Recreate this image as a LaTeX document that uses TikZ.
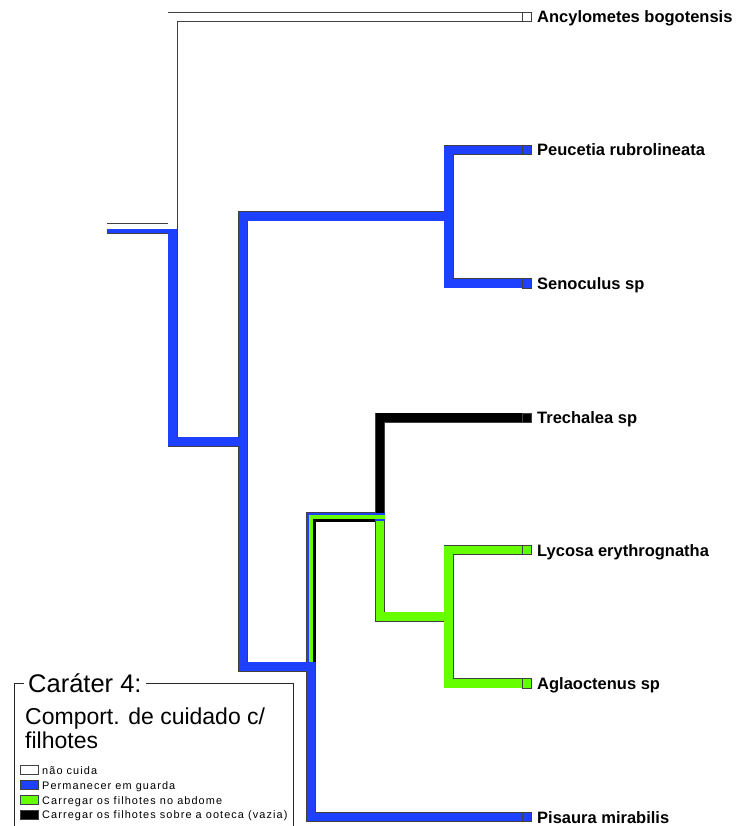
\documentclass[tikz,border=0pt]{standalone}
\usepackage{fontspec}
\setmainfont{Liberation Sans}
\newfontfamily\tipfont{Liberation Sans}
\newfontfamily\legfont[LetterSpace=10]{Liberation Sans}
\definecolor{cblue}{RGB}{30,64,255}
\definecolor{cgreen}{RGB}{102,255,0}
\definecolor{cline}{RGB}{64,64,64}
\begin{document}
\begin{tikzpicture}[x=1pt,y=-1pt,
  outl/.style={line width=10pt, draw=cline, line join=miter, line cap=butt},
  brfill/.style={line width=8.4pt, line join=miter, line cap=butt},
  stripe/.style={line join=miter, line cap=butt},
  tipbox/.style={draw=cline, line width=0.8pt, minimum size=9.2pt, inner sep=0pt, outer sep=0pt, anchor=west},
  lab/.style={anchor=base west, inner sep=0pt, font=\tipfont\bfseries\fontsize{16.5}{19}\selectfont},
  legline/.style={draw=black!85, line width=0.9pt},
  legbox/.style={draw=cline, line width=0.8pt, minimum width=18pt, minimum height=9pt, inner sep=0pt},
  legtext/.style={anchor=base west, inner sep=0pt, font=\legfont\fontsize{10.9}{12}\selectfont}
]
\useasboundingbox (0,0) rectangle (737,826);
% tree nodes
\coordinate (r0) at (107,228.5);
\coordinate (R) at (172.5,228.5);
\coordinate (A) at (243,441.5);
\coordinate (B) at (448.5,216.5);
\coordinate (C) at (311,666.5);
\coordinate (D) at (380,517);
\coordinate (E) at (448.5,616.5);
\coordinate (Dx) at (385,517);
% tip ends
\coordinate (p1) at (522.5,17);
\coordinate (p2) at (522.5,150);
\coordinate (p3) at (522.5,283.3);
\coordinate (p4) at (522.5,417.5);
\coordinate (p5) at (522.5,550);
\coordinate (p6) at (522.5,683.3);
\coordinate (p7) at (522.5,817);
% outlines
\draw[outl] (r0) -- (R);
\foreach \a/\b in {R/p1, R/A, A/B, A/C, B/p2, B/p3, C/Dx, C/p7, D/p4, D/E, E/p5, E/p6}
  \draw[outl] (\a) |- (\b);
% fills
\draw[stripe, line width=4.2pt, white] (107,226.4) -- (172.5,226.4);
\draw[stripe, line width=4.2pt, cblue] (107,230.6) -- (172.5,230.6);
\draw[brfill, white] (R) |- (p1);
\draw[brfill, cblue] (R) |- (A);
\draw[brfill, cblue] (A) |- (B);
\draw[brfill, cblue] (B) |- (p2);
\draw[brfill, cblue] (B) |- (p3);
\draw[brfill, cblue] (A) |- (C);
\draw[brfill, cblue] (C) |- (p7);
\draw[brfill, black] (D) |- (p4);
\draw[brfill, cgreen] (D) |- (E);
\draw[brfill, cgreen] (E) |- (p5);
\draw[brfill, cgreen] (E) |- (p6);
\draw[brfill, cblue] (C) |- (Dx);
% ambiguous stripes on branch C-D
\draw[stripe, line width=4pt, cgreen] (311,661.5) -- (311,517) -- (385,517);
\draw[stripe, line width=3pt, black] (314.5,661.5) -- (314.5,520.5) -- (375,520.5);
% tip boxes
\node[tipbox, fill=white] (t1) at (p1) {};
\node[tipbox, fill=cblue] (t2) at (p2) {};
\node[tipbox, fill=cblue] (t3) at (p3) {};
\node[tipbox, fill=black] (t4) at (p4) {};
\node[tipbox, fill=cgreen] (t5) at (p5) {};
\node[tipbox, fill=cgreen] (t6) at (p6) {};
\node[tipbox, fill=cblue] (t7) at (p7) {};
% tip labels
\node[lab] (l1) at (537,23) {Ancylometes bogotensis};
\node[lab] (l2) at (537,156) {Peucetia rubrolineata};
\node[lab] (l3) at (537,289.3) {Senoculus sp};
\node[lab] (l4) at (537,423.5) {Trechalea sp};
\node[lab] (l5) at (537,556) {Lycosa erythrognatha};
\node[lab] (l6) at (537,689.3) {Aglaoctenus sp};
\node[lab] (l7) at (537,823) {Pisaura mirabilis};
% legend
\draw[legline] (14,827) -- (14,683) -- (293,683) -- (293,827);
\node[fill=white, inner xsep=4pt, inner ysep=2pt, anchor=base west, font=\fontsize{25.5}{30}\selectfont] (ttl) at (24,692) {Caráter 4:};
\node[anchor=base west, inner sep=0pt, font=\fontsize{23}{24}\selectfont] (sub1) at (25,724) {Comport. de cuidado c/};
\node[anchor=base west, inner sep=0pt, font=\fontsize{23}{24}\selectfont] (sub2) at (25,748) {filhotes};
\node[legbox, fill=white] (k1) at (29.5,770) {};
\node[legbox, fill=cblue] (k2) at (29.5,785) {};
\node[legbox, fill=cgreen] (k3) at (29.5,800) {};
\node[legbox, fill=black] (k4) at (29.5,814.5) {};
\node[legtext] (k1t) at (42,774) {não cuida};
\node[legtext] (k2t) at (42,789) {Permanecer em guarda};
\node[legtext] (k3t) at (42,804) {Carregar os filhotes no abdome};
\node[legtext] (k4t) at (42,818.5) {Carregar os filhotes sobre a ooteca (vazia)};
\end{tikzpicture}
\end{document}
